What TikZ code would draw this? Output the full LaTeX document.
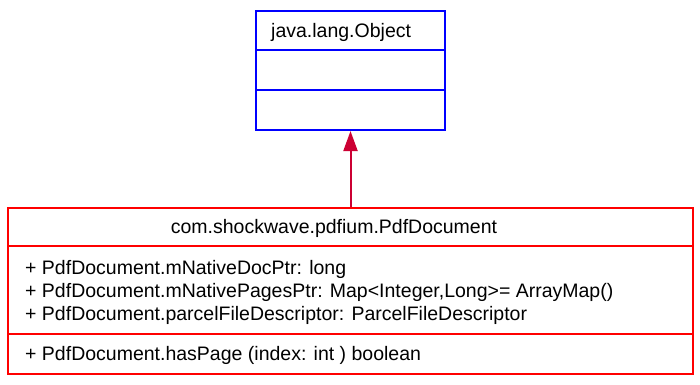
\documentclass[tikz,border=0pt]{standalone}
\usepackage{fontspec}
\setmainfont{Liberation Sans}
\usetikzlibrary{arrows.meta}
\definecolor{umlblue}{RGB}{0,0,255}
\definecolor{umlred}{RGB}{255,0,0}
\definecolor{inherit}{RGB}{204,0,51}
\tikzset{
  classbox/.style={draw, line width=2pt, minimum width=#1, inner sep=0pt, anchor=north west},
  txt/.style={font=\fontsize{19.5}{23}\selectfont, inner sep=0pt},
  generalize/.style={draw=inherit, line width=2pt, -{Triangle[length=20pt,width=14pt]}}
}
\begin{document}
\begin{tikzpicture}[x=1pt,y=-1pt]
\useasboundingbox (0,0) rectangle (700,384);
% java.lang.Object class
\node[classbox=189pt, draw=umlblue, minimum height=119pt] (obj) at (255,10) {};
\draw[umlblue, line width=2pt] (255,50) -- (444,50) (255,89.5) -- (444,89.5);
\node[txt, anchor=base west] (objname) at (271,37) {java.lang.Object};
% PdfDocument class
\node[classbox=685pt, draw=umlred, minimum height=166pt] (doc) at (7,207) {};
\draw[umlred, line width=2pt] (7,246) -- (692,246) (7,334) -- (692,334);
\node[txt, anchor=base] (docname) at (334,233) {com.shockwave.pdfium.PdfDocument};
\node[txt, anchor=base west] (a1) at (25,274) {+ PdfDocument.mNativeDocPtr: long};
\node[txt, anchor=base west] (a2) at (25,297) {+ PdfDocument.mNativePagesPtr: Map<Integer,Long>= ArrayMap()};
\node[txt, anchor=base west] (a3) at (25,320.5) {+ PdfDocument.parcelFileDescriptor: ParcelFileDescriptor};
\node[txt, anchor=base west] (m1) at (25,360.5) {+ PdfDocument.hasPage (index: int ) boolean};
% inheritance
\draw[generalize] (doc.north) -- (obj.south);
\end{tikzpicture}
\end{document}
